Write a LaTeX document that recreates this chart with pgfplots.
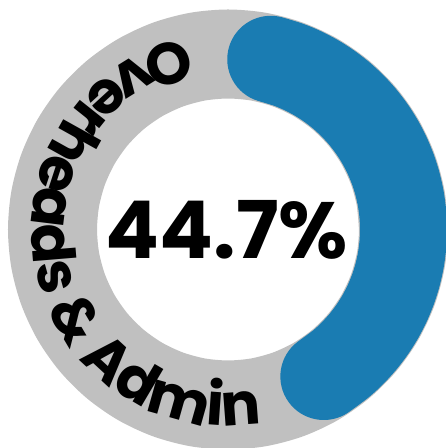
\documentclass[border=0pt]{standalone}
\usepackage{pgfplots}
\pgfplotsset{compat=1.18}
\usepackage{fontspec}
\setmainfont{Poppins}
\usetikzlibrary{decorations.text}
\definecolor{ringgrey}{HTML}{C0C0C0}
\definecolor{ringblue}{HTML}{1A7CB2}
\newcommand\ringfont{\fontsize{59}{62}\selectfont\bfseries}
\newcommand\bigfont{\fontsize{80}{84}\selectfont\bfseries}
\begin{document}
\begin{tikzpicture}
\begin{axis}[
  at={(0,0)}, anchor=south west,
  width=446bp, height=448bp, scale only axis,
  hide axis, clip=true,
  xmin=-228, xmax=218, ymin=-218.5, ymax=229.5,
]
% grey background ring (full 100%)
\addplot[data cs=polar, draw=ringgrey, line width=89bp, smooth] coordinates {
(0,175.5)(10,175.5)(20,175.5)(30,175.5)(40,175.5)(50,175.5)(60,175.5)(70,175.5)(80,175.5)(90,175.5)
(100,175.5)(110,175.5)(120,175.5)(130,175.5)(140,175.5)(150,175.5)(160,175.5)(170,175.5)(180,175.5)
(190,175.5)(200,175.5)(210,175.5)(220,175.5)(230,175.5)(240,175.5)(250,175.5)(260,175.5)(270,175.5)
(280,175.5)(290,175.5)(300,175.5)(310,175.5)(320,175.5)(330,175.5)(340,175.5)(350,175.5)(360,175.5)(370,175.5)
};
% blue arc: 44.7% of the circle, clockwise from the top (rounded caps inside)
\addplot[data cs=polar, draw=ringblue, line width=87bp, line cap=round, smooth] coordinates {
(75.9,175.5)(70,175.5)(65,175.5)(60,175.5)(55,175.5)(50,175.5)(45,175.5)(40,175.5)(35,175.5)(30,175.5)
(25,175.5)(20,175.5)(15,175.5)(10,175.5)(5,175.5)(0,175.5)(-5,175.5)(-10,175.5)(-15,175.5)(-20,175.5)
(-25,175.5)(-30,175.5)(-35,175.5)(-40,175.5)(-45,175.5)(-50,175.5)(-56.9,175.5)
};
\path[decorate, decoration={text along path, text align=center,
  text={|\ringfont|Overheads {\&} Admin}}]
  (axis cs:0,0) ++(104:196.5bp) arc[start angle=104, end angle=279, radius=196.5bp];
\node[font=\bigfont, inner sep=0pt] at (axis cs:-1,0) {44.7\%};
\end{axis}
\pgfresetboundingbox
\path[use as bounding box] (0,0) rectangle (446bp,448bp);
\end{tikzpicture}
\end{document}
